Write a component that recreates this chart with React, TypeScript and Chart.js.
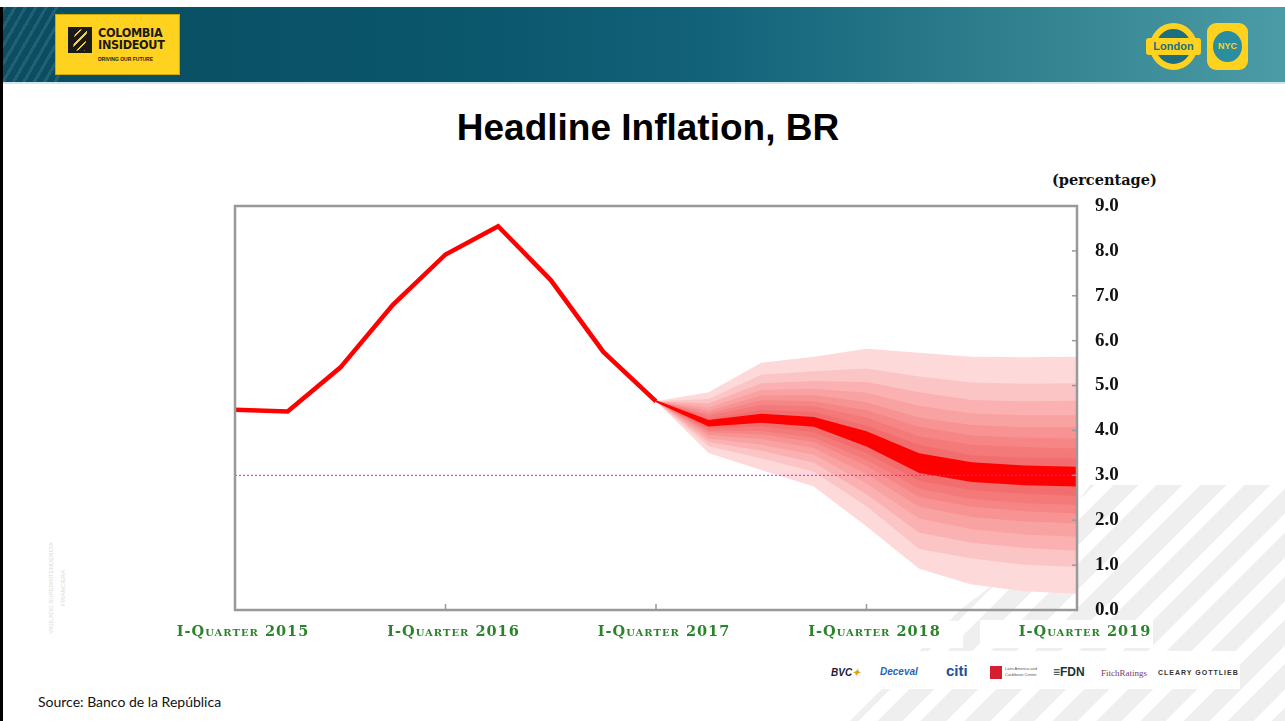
import React, { useEffect, useRef } from 'react';
import { Chart, registerables } from 'chart.js';

Chart.register(...registerables);

// ---------------- data ----------------
const xTickLabels = ['I-Quarter 2015', 'I-Quarter 2016', 'I-Quarter 2017', 'I-Quarter 2018', 'I-Quarter 2019'];

// quarter index: 0 = I-Quarter 2015 ... 16 = I-Quarter 2019
const historyQuarters = [0, 1, 2, 3, 4, 5, 6, 7, 8];
const historyInflation = [4.46, 4.42, 5.4, 6.8, 7.92, 8.55, 7.35, 5.75, 4.65];

const fanQuarters = [8, 9, 10, 11, 12, 13, 14, 15, 16];
// fan chart band limits (outer -> inner, upper side)
const fanUpper8 = [4.65, 4.85, 5.51, 5.64, 5.82, 5.73, 5.64, 5.63, 5.64];
const fanUpper7 = [4.65, 4.7, 5.24, 5.32, 5.38, 5.2, 5.07, 5.04, 5.05];
const fanUpper6 = [4.65, 4.6, 5.05, 5.1, 5.08, 4.85, 4.68, 4.65, 4.66];
const fanUpper5 = [4.65, 4.51, 4.9, 4.93, 4.84, 4.55, 4.38, 4.34, 4.34];
const fanUpper4 = [4.65, 4.44, 4.78, 4.79, 4.63, 4.29, 4.12, 4.07, 4.07];
const fanUpper3 = [4.65, 4.38, 4.67, 4.65, 4.45, 4.08, 3.89, 3.84, 3.82];
const fanUpper2 = [4.65, 4.33, 4.57, 4.54, 4.29, 3.87, 3.68, 3.63, 3.6];
const fanUpper1 = [4.65, 4.26, 4.46, 4.41, 4.11, 3.68, 3.45, 3.39, 3.38];
const fanCentralTop = [4.67, 4.23, 4.37, 4.3, 3.98, 3.49, 3.29, 3.22, 3.19];
const fanCentralBottom = [4.63, 4.09, 4.17, 4.08, 3.64, 3.05, 2.85, 2.78, 2.75];
// lower side (inner -> outer)
const fanLower1 = [4.65, 4.05, 4.09, 3.96, 3.5, 2.88, 2.67, 2.59, 2.54];
const fanLower2 = [4.65, 4.0, 3.99, 3.84, 3.34, 2.7, 2.47, 2.38, 2.34];
const fanLower3 = [4.65, 3.96, 3.91, 3.74, 3.21, 2.52, 2.3, 2.2, 2.15];
const fanLower4 = [4.65, 3.9, 3.81, 3.61, 3.03, 2.3, 2.07, 1.97, 1.93];
const fanLower5 = [4.65, 3.82, 3.68, 3.46, 2.82, 2.04, 1.8, 1.68, 1.63];
const fanLower6 = [4.65, 3.74, 3.55, 3.28, 2.58, 1.72, 1.5, 1.38, 1.32];
const fanLower7 = [4.65, 3.65, 3.38, 3.08, 2.31, 1.36, 1.15, 1.01, 0.96];
const fanLower8 = [4.65, 3.5, 3.12, 2.75, 1.86, 0.92, 0.57, 0.42, 0.36];

const targetQuarters = [0, 16];
const targetInflation = [3.0, 3.0];

// outer -> inner band colours
const bandColors = ['#fdd9d9', '#fcc5c5', '#fbb1b1', '#f9a2a2', '#f89393', '#f68686', '#f47a7a', '#f26e6e'];
const centralColor = '#ff0000';

const pts = (xs: number[], ys: number[]) => xs.map((x, i) => ({ x, y: ys[i] }));

function buildDatasets() {
  const ds: any[] = [];
  ds.push({
    data: pts(targetQuarters, targetInflation),
    borderColor: '#ff00ff',
    borderWidth: 1,
    borderDash: [2, 2],
    pointRadius: 0,
    fill: false,
  });
  ds.push({
    data: pts(historyQuarters, historyInflation),
    borderColor: '#ff0000',
    borderWidth: 4.5,
    pointRadius: 0,
    fill: false,
  });
  const pairs: [number[], number[], string][] = [
    [fanCentralTop, fanCentralBottom, centralColor],
    [fanUpper1, fanLower1, bandColors[7]],
    [fanUpper2, fanLower2, bandColors[6]],
    [fanUpper3, fanLower3, bandColors[5]],
    [fanUpper4, fanLower4, bandColors[4]],
    [fanUpper5, fanLower5, bandColors[3]],
    [fanUpper6, fanLower6, bandColors[2]],
    [fanUpper7, fanLower7, bandColors[1]],
    [fanUpper8, fanLower8, bandColors[0]],
  ];
  pairs.forEach(([up, lo, color]) => {
    ds.push({
      data: pts(fanQuarters, up),
      borderColor: 'rgba(0,0,0,0)',
      borderWidth: 0,
      backgroundColor: color,
      pointRadius: 0,
      fill: '+1',
    });
    ds.push({
      data: pts(fanQuarters, lo),
      borderColor: 'rgba(0,0,0,0)',
      borderWidth: 0,
      pointRadius: 0,
      fill: false,
    });
  });
  return ds;
}

const framePlugin = {
  id: 'frame',
  afterDatasetsDraw(chart: any) {
    const { ctx, chartArea: a, scales } = chart;
    ctx.save();
    ctx.strokeStyle = '#999999';
    ctx.lineWidth = 1.5;
    scales.x.ticks.forEach((t: any) => {
      const px = scales.x.getPixelForValue(t.value);
      ctx.beginPath();
      ctx.moveTo(px, a.bottom);
      ctx.lineTo(px, a.bottom - 6);
      ctx.stroke();
    });
    scales.y.ticks.forEach((t: any) => {
      const py = scales.y.getPixelForValue(t.value);
      ctx.beginPath();
      ctx.moveTo(a.right, py);
      ctx.lineTo(a.right - 5, py);
      ctx.stroke();
    });
    ctx.lineWidth = 2.5;
    ctx.strokeRect(a.left, a.top, a.right - a.left, a.bottom - a.top);
    ctx.restore();
    // x-axis labels (drawn after datasets, z = 1) use a slight letter spacing
    (ctx as any).letterSpacing = '1px';
  },
  afterDraw(chart: any) {
    (chart.ctx as any).letterSpacing = '0px';
  },
};

export default function App() {
  const canvasRef = useRef<HTMLCanvasElement>(null);

  useEffect(() => {
    const canvas = canvasRef.current;
    if (!canvas) return;
    const chart = new Chart(canvas, {
      type: 'line',
      data: { datasets: buildDatasets() },
      options: {
        responsive: false,
        animation: false,
        events: [],
        layout: { padding: { left: 235, top: 206, right: 1285 - 1077 - 60, bottom: 721 - 610 - 40 } },
        plugins: {
          legend: { display: false },
          tooltip: { enabled: false },
          filler: { propagate: false },
        },
        scales: {
          x: {
            type: 'linear',
            min: 0,
            max: 16,
            grid: { display: false, drawTicks: false },
            border: { display: false },
            afterFit: (s: any) => {
              s.height = 40;
            },
            ticks: {
              z: 1,
              stepSize: 4,
              autoSkip: false,
              maxRotation: 0,
              padding: 14,
              labelOffset: 8,
              color: '#2b832b',
              font: { family: '"DejaVu Serif"', size: 14.5, weight: 'small-caps bold' as any },
              callback: (v: any) => xTickLabels[Math.round(Number(v) / 4)] ?? '',
            },
          },
          y: {
            type: 'linear',
            position: 'right',
            min: 0,
            max: 9,
            grid: { display: false, drawTicks: false },
            border: { display: false },
            afterFit: (s: any) => {
              s.width = 60;
            },
            ticks: {
              stepSize: 1,
              padding: 18,
              color: '#111111',
              font: { family: '"Liberation Serif"', size: 19, weight: 'bold' },
              callback: (v: any) => Number(v).toFixed(1),
            },
          },
        },
      },
      plugins: [framePlugin],
    });
    return () => chart.destroy();
  }, []);

  const abs = (l: number, t: number, w: number, h: number, extra: any = {}) => ({
    position: 'absolute' as const,
    left: l,
    top: t,
    width: w,
    height: h,
    ...extra,
  });

  return (
    <div
      style={{
        position: 'fixed',
        left: 0,
        top: 0,
        width: 1285,
        height: 721,
        overflow: 'hidden',
        background: '#ffffff',
        fontFamily: '"Liberation Sans", Arial, sans-serif',
      }}
    >
      {/* diagonal background stripes bottom-right */}
      <div
        style={abs(850, 485, 435, 236, {
          background: 'repeating-linear-gradient(135deg, #efefef 0px, #efefef 18px, rgba(255,255,255,0) 18px, rgba(255,255,255,0) 31px)',
          clipPath: 'polygon(240px 0, 100% 0, 100% 100%, 0 100%, 110px 125px, 200px 55px)',
        })}
      />
      {/* white label patches */}
      <div style={abs(790, 621, 173, 27, { background: '#fff' })} />
      <div style={abs(980, 620, 173, 28, { background: '#fff' })} />
      <div style={abs(828, 651, 412, 38, { background: '#fff' })} />

      {/* left frame line */}
      <div style={abs(0, 7, 3, 714, { background: '#000' })} />

      {/* header band */}
      <div
        style={abs(3, 7, 1282, 75, {
          background: 'linear-gradient(90deg, #0b4d62 0%, #0a566b 35%, #12627a 55%, #2f7f8e 78%, #4b9ca6 100%)',
          borderBottom: '2px solid #cfe6ea',
        })}
      />
      <div
        style={abs(3, 7, 60, 75, {
          background: 'repeating-linear-gradient(120deg, rgba(255,255,255,0.10) 0px, rgba(255,255,255,0.10) 3px, rgba(255,255,255,0) 3px, rgba(255,255,255,0) 9px)',
        })}
      />
      {/* Colombia Inside Out logo */}
      <div style={abs(55, 14, 125, 61, { background: '#ffd21f', boxSizing: 'border-box', border: '1px solid #d1a900' })}>
        <div style={abs(12, 12, 24, 26, { background: '#1a1a1a', overflow: 'hidden' })}>
          <div
            style={abs(0, 0, 24, 26, {
              background: 'repeating-linear-gradient(135deg, rgba(0,0,0,0) 0px, rgba(0,0,0,0) 4px, #ffd21f 4px, #ffd21f 6px)',
              clipPath: 'polygon(30% 10%, 80% 10%, 70% 90%, 20% 90%)',
            })}
          />
        </div>
        <div style={abs(42, 11, 80, 13, { fontSize: 12.5, fontWeight: 700, lineHeight: '13px', color: '#1a1a1a', fontFamily: '"DejaVu Sans Condensed", "Liberation Sans Narrow", sans-serif', letterSpacing: -0.3 })}>
          COLOMBIA
        </div>
        <div style={abs(42, 23, 80, 13, { fontSize: 12.5, fontWeight: 700, lineHeight: '13px', color: '#1a1a1a', fontFamily: '"DejaVu Sans Condensed", "Liberation Sans Narrow", sans-serif', letterSpacing: -0.3 })}>
          INSIDEOUT
        </div>
        <div style={abs(42, 40, 80, 8, { fontSize: 5, fontWeight: 700, lineHeight: '8px', color: '#1a1a1a' })}>DRIVING OUR FUTURE</div>
      </div>
      {/* London / NYC logos */}
      <div style={abs(1150, 23, 47, 47, { borderRadius: '50%', boxSizing: 'border-box', border: '6px solid #ffd21f', background: '#1d6f80' })} />
      <div style={abs(1146, 38, 55, 17, { background: '#ffd21f', borderRadius: 3, color: '#1d6f80', fontSize: 11, fontWeight: 700, textAlign: 'center', lineHeight: '17px' })}>
        London
      </div>
      <div style={abs(1207, 23, 41, 47, { background: '#ffd21f', borderRadius: 9 })}>
        <div style={abs(6, 8, 29, 31, { borderRadius: '50%', background: '#2a8ea0', color: '#ffd21f', fontSize: 9, fontWeight: 700, textAlign: 'center', lineHeight: '31px' })}>
          NYC
        </div>
      </div>

      {/* title */}
      <div style={abs(0, 109, 1296, 37, { textAlign: 'center', fontSize: 37, fontWeight: 700, lineHeight: '37px', color: '#000' })}>
        Headline Inflation, BR
      </div>

      {/* y-axis unit */}
      <div style={abs(1052, 170, 120, 20, { fontFamily: '"DejaVu Serif", serif', fontWeight: 700, fontSize: 14.5, lineHeight: '20px', color: '#111' })}>
        (percentage)
      </div>

      {/* vigilado mark */}
      <div
        style={abs(-12, 582, 125, 12, {
          transform: 'rotate(-90deg)',
          fontSize: 6,
          color: '#d9d9d9',
          textAlign: 'center',
          lineHeight: '12px',
        })}
      >
        VIGILADO SUPERINTENDENCIA FINANCIERA
      </div>

      {/* sponsors strip */}
      <div style={abs(831, 666, 40, 14, { fontSize: 10, fontWeight: 900, color: '#1b1b3a', fontStyle: 'italic', lineHeight: '14px' })}>
        BVC<span style={{ color: '#e4a000' }}>✦</span>
      </div>
      <div style={abs(880, 664, 50, 16, { fontSize: 10, color: '#2a64b8', fontStyle: 'italic', fontWeight: 700, lineHeight: '16px' })}>Deceval</div>
      <div style={abs(946, 662, 30, 18, { fontSize: 15, color: '#1a4fa0', fontWeight: 700, lineHeight: '18px' })}>citi</div>
      <div style={abs(990, 666, 12, 13, { background: '#d4202e' })} />
      <div style={abs(1005, 666, 40, 13, { fontSize: 4, color: '#555', lineHeight: '6px' })}>Latin America and Caribbean Centre</div>
      <div style={abs(1053, 664, 42, 16, { fontSize: 12, color: '#233', fontWeight: 900, lineHeight: '16px' })}>≡FDN</div>
      <div style={abs(1101, 666, 60, 14, { fontSize: 9, color: '#7a3a6a', fontFamily: '"Liberation Serif", serif', lineHeight: '14px' })}>FitchRatings</div>
      <div style={abs(1158, 667, 90, 12, { fontSize: 7, color: '#333', fontWeight: 700, letterSpacing: 1, lineHeight: '12px' })}>CLEARY GOTTLIEB</div>

      {/* source */}
      <div style={abs(38, 693, 300, 18, { fontFamily: 'Lato, "Open Sans", sans-serif', fontSize: 14, lineHeight: '18px', color: '#111' })}>
        Source: Banco de la República
      </div>

      <canvas ref={canvasRef} width={1285} height={721} style={{ position: 'absolute', left: 0, top: 0, width: 1285, height: 721 }} />
    </div>
  );
}
